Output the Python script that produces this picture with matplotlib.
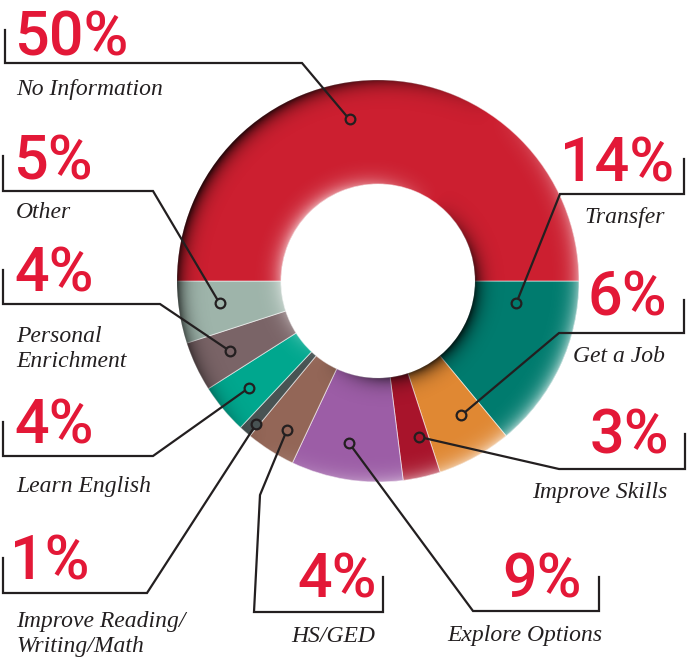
import numpy as np
import matplotlib.pyplot as plt
from matplotlib.patches import Wedge

W, H = 700, 657

# slices, clockwise from 3 o'clock
categories = ['Transfer', 'Get a Job', 'Improve Skills', 'Explore Options', 'HS/GED',
              'Improve Reading/\nWriting/Math', 'Learn English', 'Personal\nEnrichment',
              'Other', 'No Information']
shares = [14, 6, 3, 9, 4, 1, 4, 4, 5, 50]
colors = ['#007B6E', '#E08833', '#A8142B', '#9C5DA6', '#936657',
          '#485353', '#00A78E', '#7A6467', '#9EB4AA', '#CC1F30']

# label layout in pixels (y from top):
# pct x, pct baseline, align, label x, label baseline, bracket path, marker radius, marker angle shift
layout = [
    (674, 182, 'right', 665, 223, [(684, 159), (684, 194), (560, 194)], 140, 16),
    (667, 315, 'right', 665, 362, [(684, 300), (684, 333), (559, 333)], 158, 3),
    (669, 453, 'right', 667, 498, [(685, 434), (685, 469), (559, 469)], 161, 2),
    (582, 597, 'right', 602, 641, [(599, 577), (599, 611), (473, 611)], 165, -1),
    (377, 598, 'right', 375, 642, [(383, 577), (383, 612), (254, 612), (260, 495)], 175, 1),
    (10, 580, 'left', 16, 627, [(3, 558), (3, 593), (147, 593)], 188, 1),
    (14, 443, 'left', 16, 492, [(3, 422), (3, 456), (153, 456)], 168, 0),
    (14, 292, 'left', 16, 342, [(3, 270), (3, 304), (160, 304)], 164, 0),
    (14, 180, 'left', 16, 218, [(3, 156), (3, 191), (153, 191)], 160, -1),
    (15, 55, 'left', 16, 95, [(5, 30), (5, 63), (302, 63)], 164, 10),
]

ink = '#231F20'
red = '#E31837'

fig = plt.figure(figsize=(7, 6.57), dpi=100)
ax = fig.add_axes([0, 0, 1, 1])

cx, cy = 378, H - 281
R, r_in = 201, 97
wedges, _ = ax.pie(shares, colors=colors, startangle=0, counterclock=False,
                   radius=R, center=(cx, cy),
                   wedgeprops=dict(width=R - r_in, edgecolor=(1, 1, 1, 0.55), linewidth=0.7))

# soft 3D shading on the ring edges (light from lower right)
n = 700
X, Y = np.meshgrid(np.linspace(cx - R, cx + R, n), np.linspace(cy - R, cy + R, n))
rr = np.hypot(X - cx, Y - cy)
th = np.arctan2(Y - cy, X - cx)
u = np.clip((rr - (R + r_in) / 2) / ((R - r_in) / 2), -1, 1)
val = np.sign(u) * np.abs(u) ** 6 * np.cos(th - np.radians(-35))
rgba = np.zeros((n, n, 4))
rgba[..., :3] = (val > 0)[..., None] * 1.0
rgba[..., 3] = np.where(val > 0, 0.6 * val, 0.85 * -val)
img = ax.imshow(rgba, extent=(cx - R, cx + R, cy - R, cy + R), origin='lower',
                zorder=2, interpolation='bilinear')
ring = Wedge((cx, cy), R, 0, 360, width=R - r_in, transform=ax.transData)
img.set_clip_path(ring)

for w, cat, v, col, lay in zip(wedges, categories, shares, colors, layout):
    px, pb, ha, lx, lb, path, mr, shift = lay
    ang = np.radians((w.theta1 + w.theta2) / 2 + shift)
    mx, my = cx + mr * np.cos(ang), cy + mr * np.sin(ang)
    xs = [p[0] for p in path] + [mx]
    ys = [H - p[1] for p in path] + [my]
    ax.plot(xs, ys, color=ink, lw=1.6, solid_joinstyle='miter', zorder=3)
    ax.plot(mx, my, 'o', ms=7, mfc=col, mec=ink, mew=1.6, zorder=4)
    ax.text(px, H - pb, f'{v}%', ha=ha, va='baseline', fontsize=44,
            family='Roboto', fontweight='medium', color=red)
    for i, line in enumerate(cat.split('\n')):
        ax.text(lx, H - (lb + 25 * i), line, ha=ha, va='baseline', fontsize=17,
                family='Liberation Serif', style='italic', color=ink)

ax.set_xlim(0, W)
ax.set_ylim(0, H)
ax.set_aspect('auto')
ax.axis('off')

fig.savefig('out.png', dpi=100)
